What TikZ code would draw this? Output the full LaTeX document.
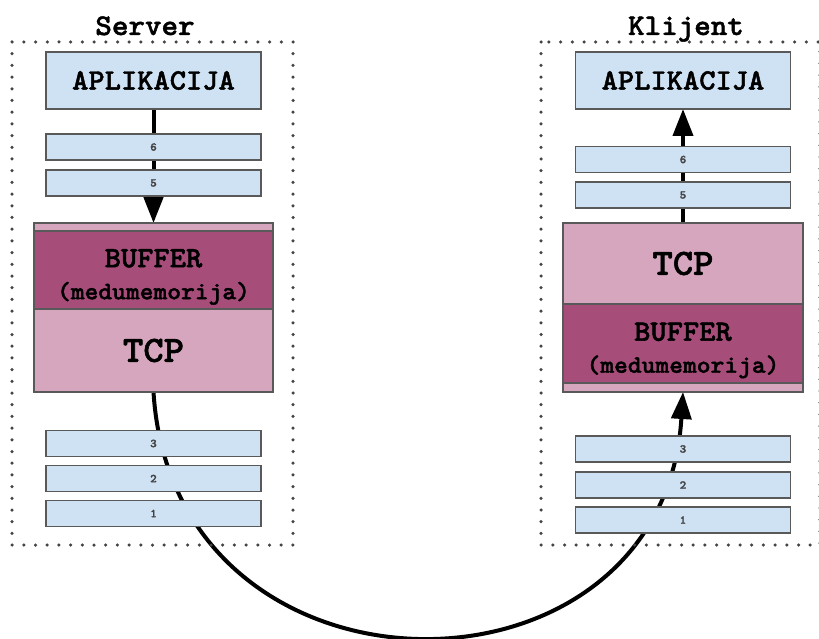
\documentclass[tikz,border=0pt]{standalone}
\usepackage{fontspec}
\newfontfamily\cour[FakeStretch=1.05,FakeBold=1.6]{lmmonolt10-bold.otf}
\usetikzlibrary{arrows.meta,backgrounds}
\definecolor{lblue}{HTML}{CFE2F3}
\definecolor{dpink}{HTML}{A64D79}
\definecolor{lpink}{HTML}{D5A6BD}
\definecolor{bord}{HTML}{595959}
\definecolor{numc}{HTML}{434343}
\definecolor{dotc}{HTML}{444444}
\begin{document}
\begin{tikzpicture}[x=1pt,y=-1pt,
  every node/.style={inner sep=0pt,outer sep=0pt},
  box/.style={draw=bord,line width=1.5pt,rectangle},
  app/.style={box,fill=lblue,minimum width=215pt,minimum height=57pt,font=\cour\fontsize{29.5}{32}\selectfont},
  layer/.style={box,fill=lblue,minimum width=215pt,minimum height=26pt,font=\cour\fontsize{12}{13}\selectfont,text=numc},
  stk/.style={box,minimum width=239pt},
  tcpbox/.style={stk,fill=lpink,font=\cour\fontsize{37}{40}\selectfont},
  bufbox/.style={stk,fill=dpink,align=center,font=\cour\fontsize{29.5}{32}\selectfont},
  strip/.style={stk,fill=lpink,minimum height=8pt},
  frame/.style={draw=dotc,line width=3.5pt,line cap=round,dash pattern=on 0pt off 11.7pt},
  lbl/.style={anchor=base,font=\cour\fontsize{30}{32}\selectfont},
  flow/.style={line width=4pt,-{Triangle[width=20pt,length=27pt]}}
]
\useasboundingbox (0,0) rectangle (819,639);

% frames
\draw[frame] (12,42) rectangle (293,545);
\draw[frame] (541,42) rectangle (820,545);
\node[lbl] (srv) at (145,35) {Server};
\node[lbl] (kli) at (686,35) {Klijent};

% left column
\node[app] (appL) at (153.5,80.5) {APLIKACIJA};
\node[layer] (l6) at (153.5,147) {6};
\node[layer] (l5) at (153.5,183) {5};
\node[strip] (stripL) at (153.5,227) {};
\node[bufbox,minimum height=78pt] (bufL) at (153.5,270) {\rule{0pt}{32pt}BUFFER\\{\fontsize{25}{32}\selectfont (medumemorija)}};
\node[tcpbox,minimum height=83pt] (tcpL) at (153.5,350.5) {TCP};
\node[layer] (l3) at (153.5,443.5) {3};
\node[layer] (l2) at (153.5,478.5) {2};
\node[layer] (l1) at (153.5,513.5) {1};

% right column
\node[app] (appR) at (683,80.5) {APLIKACIJA};
\node[layer] (r6) at (683,159.5) {6};
\node[layer] (r5) at (683,195) {5};
\node[tcpbox,minimum width=240pt,minimum height=81pt] (tcpR) at (683,263.5) {TCP};
\node[bufbox,minimum width=240pt,minimum height=79pt] (bufR) at (683,343.5) {\rule{0pt}{32pt}BUFFER\\{\fontsize{25}{32}\selectfont (medumemorija)}};
\node[strip,minimum width=240pt,minimum height=9pt] (stripR) at (683,387.5) {};
\node[layer] (r3) at (683,449) {3};
\node[layer] (r2) at (683,485) {2};
\node[layer] (r1) at (683,520) {1};

\begin{scope}[on background layer]
  \draw[flow] (appL.south) -- (stripL.north);
  \draw[flow] (tcpR.north) -- (appR.south);
  \draw[flow] (tcpL.south) .. controls (173.5,717) and (663,717) .. (stripR.south);
\end{scope}
\end{tikzpicture}
\end{document}
